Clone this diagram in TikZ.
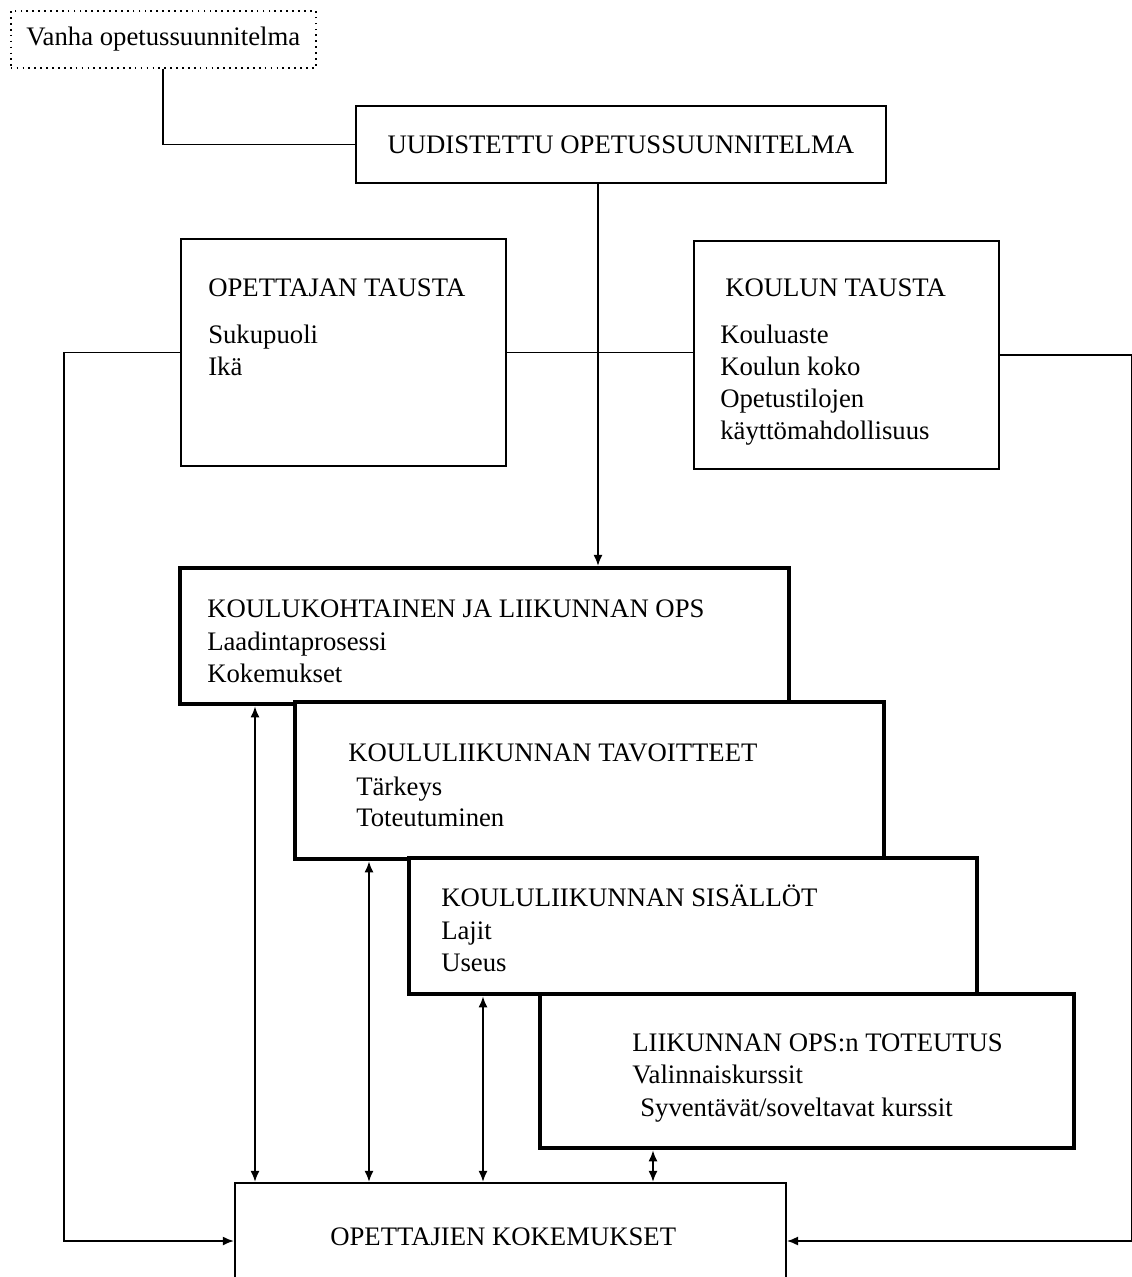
\documentclass[tikz,border=0pt]{standalone}
\usepackage{fontspec}
\setmainfont{Liberation Serif}
\usetikzlibrary{arrows.meta}

\newcommand{\pxu}{0.025cm}

\tikzset{
    laatikko/.style={draw, fill=white, line width=1.3pt, inner sep=0pt, anchor=north west},
    paksu/.style={laatikko, line width=3pt},
    pisteet/.style={laatikko, line width=1.1pt, dash pattern=on 1.2pt off 3pt},
    rivi/.style={anchor=base west, inner sep=0pt},
    viiva/.style={line width=1.3pt},
    nuoli/.style={viiva, -{Latex[length=8pt,width=6.5pt]}},
    kaksi/.style={viiva, {Latex[length=8pt,width=6.5pt]}-{Latex[length=8pt,width=6.5pt]}}
}

\begin{document}
\begin{tikzpicture}[x=\pxu, y=-\pxu, font=\fontsize{19}{22}\selectfont]
        \useasboundingbox (0,0) rectangle (1132,1277);

        % Ylimmat laatikot
        \node[pisteet, minimum width=305*\pxu, minimum height=57*\pxu] (vanha) at (10,10) {Vanha opetussuunnitelma};
        \node[laatikko, minimum width=530*\pxu, minimum height=77*\pxu] (uudistettu) at (355,105) {UUDISTETTU OPETUSSUUNNITELMA};
        \draw[viiva] (vanha.south) |- (uudistettu.west);

        % Taustat
        \node[laatikko, minimum width=325*\pxu, minimum height=227*\pxu] (opettajan) at (180,238) {};
        \node[rivi] (ot1) at (208,296) {OPETTAJAN TAUSTA};
        \node[rivi] (ot2) at (208,343) {Sukupuoli};
        \node[rivi] (ot3) at (208,375) {Ikä};

        \node[laatikko, minimum width=305*\pxu, minimum height=228*\pxu] (koulun) at (693,240) {};
        \node[rivi] (kt1) at (725,296) {KOULUN TAUSTA};
        \node[rivi] (kt2) at (720,343) {Kouluaste};
        \node[rivi] (kt3) at (720,375) {Koulun koko};
        \node[rivi] (kt4) at (720,407) {Opetustilojen};
        \node[rivi] (kt5) at (720,439) {käyttömahdollisuus};

        % Porraslaatikot
        \node[paksu, minimum width=609*\pxu, minimum height=136*\pxu] (koulukoht) at (178,566) {};
        \node[rivi] (kk1) at (207,617) {KOULUKOHTAINEN JA LIIKUNNAN OPS};
        \node[rivi] (kk2) at (207,650) {Laadintaprosessi};
        \node[rivi] (kk3) at (207,682) {Kokemukset};

        \node[paksu, minimum width=589*\pxu, minimum height=157*\pxu] (tavoitteet) at (293,700) {};
        \node[rivi] (ta1) at (348,761) {KOULULIIKUNNAN TAVOITTEET};
        \node[rivi] (ta2) at (356,795) {Tärkeys};
        \node[rivi] (ta3) at (356,826) {Toteutuminen};

        \node[paksu, minimum width=568*\pxu, minimum height=136*\pxu] (sisallot) at (407,856) {};
        \node[rivi] (si1) at (441,906) {KOULULIIKUNNAN SISÄLLÖT};
        \node[rivi] (si2) at (441,939) {Lajit};
        \node[rivi] (si3) at (441,971) {Useus};

        \node[paksu, minimum width=534*\pxu, minimum height=154*\pxu] (toteutus) at (538,992) {};
        \node[rivi] (to1) at (632,1051) {LIIKUNNAN OPS:n TOTEUTUS};
        \node[rivi] (to2) at (632,1083) {Valinnaiskurssit};
        \node[rivi] (to3) at (640,1116) {Syventävät/soveltavat kurssit};

        % Alin laatikko (jatkuu kuvan alareunan yli)
        \node[laatikko, minimum width=551*\pxu, minimum height=150*\pxu] (kokemukset) at (234,1182) {};
        \node[rivi] (ok1) at (330,1245) {OPETTAJIEN KOKEMUKSET};

        % Nuolet
        \coordinate (alas) at ([shift={(243,0)}]uudistettu.south west);
        \draw[nuoli] (alas) -- (alas |- koulukoht.north);

        \draw[viiva] (opettajan.east) -- (opettajan.east -| koulun.west);
        \draw[nuoli] (opettajan.west) -- ++(-116,0) |- ([shift={(0,59)}]kokemukset.north west);
        \draw[nuoli] (koulun.east) -- ++(132,0) |- ([shift={(0,59)}]kokemukset.north east);

        \draw[kaksi] ([shift={(77,0)}]koulukoht.south west) -- ([shift={(21,0)}]kokemukset.north west);
        \draw[kaksi] ([shift={(76,0)}]tavoitteet.south west) -- ([shift={(135,0)}]kokemukset.north west);
        \draw[kaksi] ([shift={(76,0)}]sisallot.south west) -- ([shift={(249,0)}]kokemukset.north west);
        \draw[kaksi] ([shift={(115,0)}]toteutus.south west) -- ([shift={(419,0)}]kokemukset.north west);
    \end{tikzpicture}
\end{document}
